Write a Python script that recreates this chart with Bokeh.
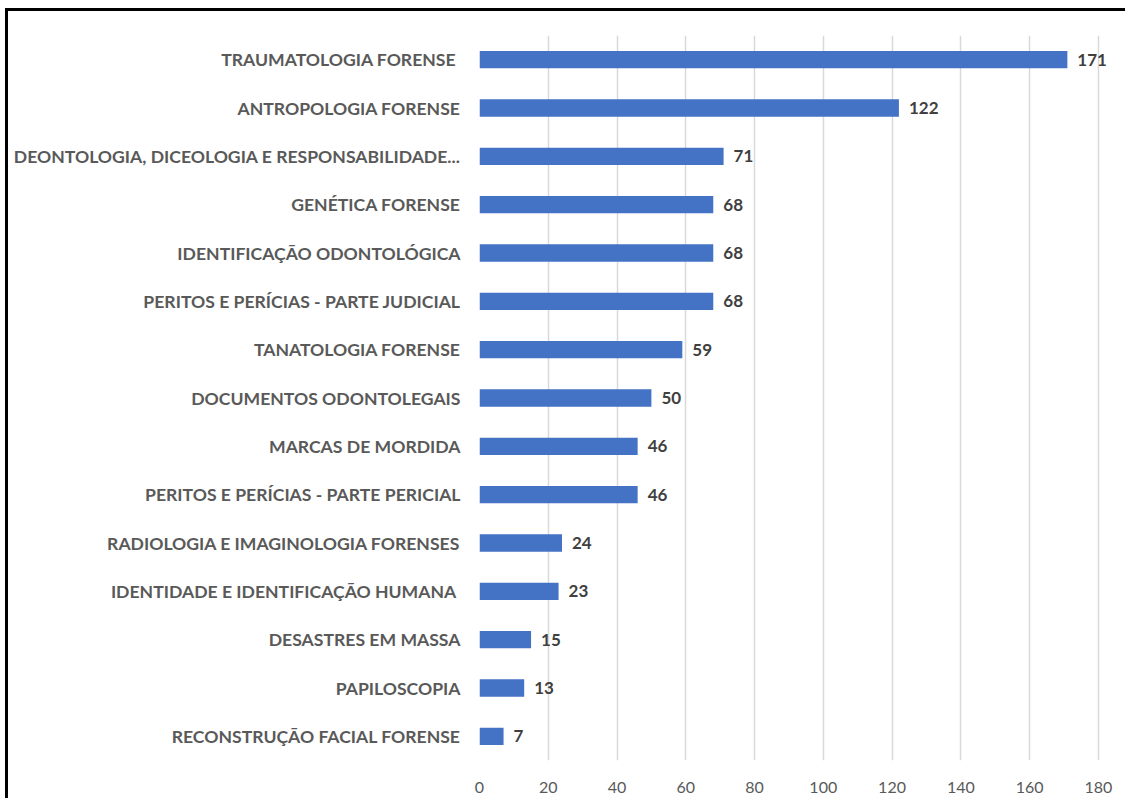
from bokeh.plotting import figure
from bokeh.models import FactorRange, Range1d, ColumnDataSource, FixedTicker, LabelSet
from bokeh.core.properties import value
from bokeh.embed import file_html
from bokeh.resources import INLINE

categories = [
    "TRAUMATOLOGIA FORENSE ",
    "ANTROPOLOGIA FORENSE",
    "DEONTOLOGIA, DICEOLOGIA E RESPONSABILIDADE...",
    "GENÉTICA FORENSE",
    "IDENTIFICAÇÃO ODONTOLÓGICA",
    "PERITOS E PERÍCIAS - PARTE JUDICIAL",
    "TANATOLOGIA FORENSE",
    "DOCUMENTOS ODONTOLEGAIS",
    "MARCAS DE MORDIDA",
    "PERITOS E PERÍCIAS - PARTE PERICIAL",
    "RADIOLOGIA E IMAGINOLOGIA FORENSES",
    "IDENTIDADE E IDENTIFICAÇÃO HUMANA ",
    "DESASTRES EM MASSA",
    "PAPILOSCOPIA",
    "RECONSTRUÇÃO FACIAL FORENSE",
]
values = [171, 122, 71, 68, 68, 68, 59, 50, 46, 46, 24, 23, 15, 13, 7]
x_ticks = [0, 20, 40, 60, 80, 100, 120, 140, 160, 180]

FONT = "Lato"

source = ColumnDataSource(dict(cat=categories, val=values, lab=[str(v) for v in values]))

p = figure(
    width=1120, height=790,
    y_range=FactorRange(factors=list(reversed(categories))),
    x_range=Range1d(0, 185),
    output_backend="svg", toolbar_location=None,
    min_border_left=471, min_border_right=13, min_border_top=24, min_border_bottom=41,
)
p.styles = {"border-top": "3px solid #000000", "border-left": "3px solid #000000",
            "margin-top": "8px", "margin-left": "5px"}

p.hbar(y="cat", right="val", left=0, height=0.36, source=source,
       fill_color="#4472C4", line_color=None)

labels = LabelSet(x="val", y="cat", text="lab", source=source,
                  x_offset=10, y_offset=0,
                  text_font=value(FONT), text_font_style="bold", text_font_size="17px",
                  text_color="#404040", text_baseline="middle", text_align="left")
p.add_layout(labels)

p.outline_line_color = None
p.background_fill_color = "white"
p.border_fill_color = "white"

p.ygrid.grid_line_color = None
p.xgrid.grid_line_color = "#d9d9d9"
p.xgrid.grid_line_width = 1.5
p.xaxis.ticker = FixedTicker(ticks=x_ticks)

p.xaxis.axis_line_color = None
p.xaxis.major_tick_line_color = None
p.xaxis.minor_tick_line_color = None
p.xaxis.major_label_text_font = FONT
p.xaxis.major_label_text_font_size = "16px"
p.xaxis.major_label_text_color = "#595959"
p.xaxis.major_label_standoff = 15

p.yaxis.axis_line_color = None
p.yaxis.major_tick_line_color = None
p.yaxis.minor_tick_line_color = None
p.yaxis.major_label_text_font = FONT
p.yaxis.major_label_text_font_style = "bold"
p.yaxis.major_label_text_font_size = "17.6px"
p.yaxis.major_label_text_color = "#595959"
p.yaxis.major_label_standoff = 13

open("out.html", "w").write(file_html(p, INLINE))
